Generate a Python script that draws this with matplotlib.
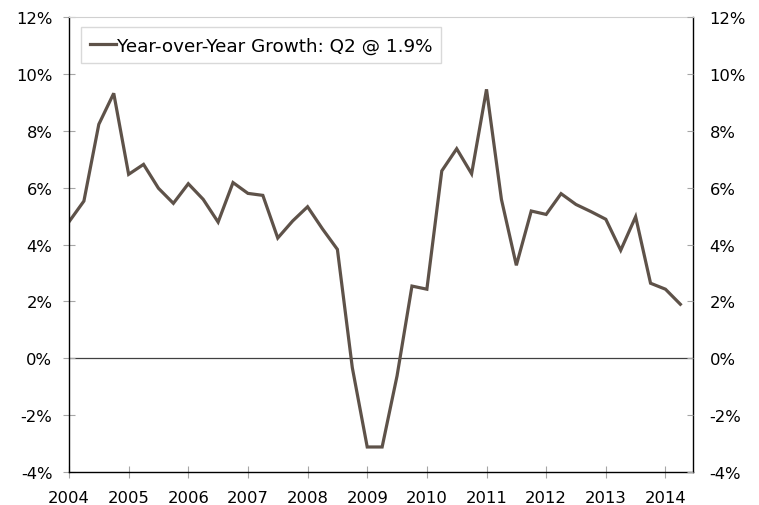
import numpy as np
import matplotlib.pyplot as plt
from matplotlib.ticker import FuncFormatter

# quarterly year-over-year growth, 2004 Q1 through 2014 Q2 (percent)
quarters = np.arange(2004, 2014.5, 0.25)
growth = [4.8, 5.53, 8.23, 9.32,
          6.47, 6.82, 5.98, 5.45,
          6.14, 5.59, 4.79, 6.18,
          5.80, 5.73, 4.23, 4.83,
          5.33, 4.55, 3.83, -0.33,
          -3.12, -3.12, -0.62, 2.54,
          2.43, 6.59, 7.37, 6.49,
          9.46, 5.59, 3.27, 5.18,
          5.06, 5.79, 5.41, 5.16,
          4.89, 3.80, 4.98, 2.64,
          2.43, 1.90]
year_ticks = list(range(2004, 2015))
pct_ticks = list(range(-4, 13, 2))

line_color = '#5e5249'
tick_gray = '#a6a6a6'

fig = plt.figure(figsize=(7.59, 5.06), dpi=100)
ax = fig.add_axes([0.0909, 0.0652, 0.822, 0.899])

ax.plot(quarters, growth, color=line_color, lw=2.3, solid_joinstyle='miter',
        label='Year-over-Year Growth: Q2 @ 1.9%')
ax.axhline(0, color='#404040', lw=0.9, zorder=1)

ax.set_xlim(2004, 2014.46)
ax.set_ylim(-4, 12)
ax.set_xticks(year_ticks)
ax.set_yticks(pct_ticks)
pct = FuncFormatter(lambda v, p: f'{v:.0f}%')
ax.yaxis.set_major_formatter(pct)

for side in ('left', 'right', 'bottom'):
    ax.spines[side].set_color('black')
    ax.spines[side].set_linewidth(1.0)
ax.spines['top'].set_color('#d0d0d0')

ax.tick_params(axis='x', direction='inout', length=8, color=tick_gray,
               labelsize=11.8, pad=9)
ax.tick_params(axis='y', direction='inout', length=8, color=tick_gray,
               labelsize=11.8, pad=8)

# same scale repeated on the right side
ax2 = ax.twinx()
ax2.set_ylim(ax.get_ylim())
ax2.set_yticks(pct_ticks)
ax2.yaxis.set_major_formatter(pct)
ax2.tick_params(axis='y', direction='in', length=4.5, color=tick_gray,
                labelsize=11.8, pad=12)
for s in ax2.spines.values():
    s.set_visible(False)

leg = ax.legend(loc='upper left', bbox_to_anchor=(0.019, 0.978), fontsize=13.2,
                frameon=True, fancybox=False, handlelength=1.4,
                handletextpad=0.05, borderpad=0.5, borderaxespad=0)
leg.get_frame().set_edgecolor('#d0d0d0')
leg.get_frame().set_linewidth(1.0)

fig.savefig('out.png', dpi=100)
